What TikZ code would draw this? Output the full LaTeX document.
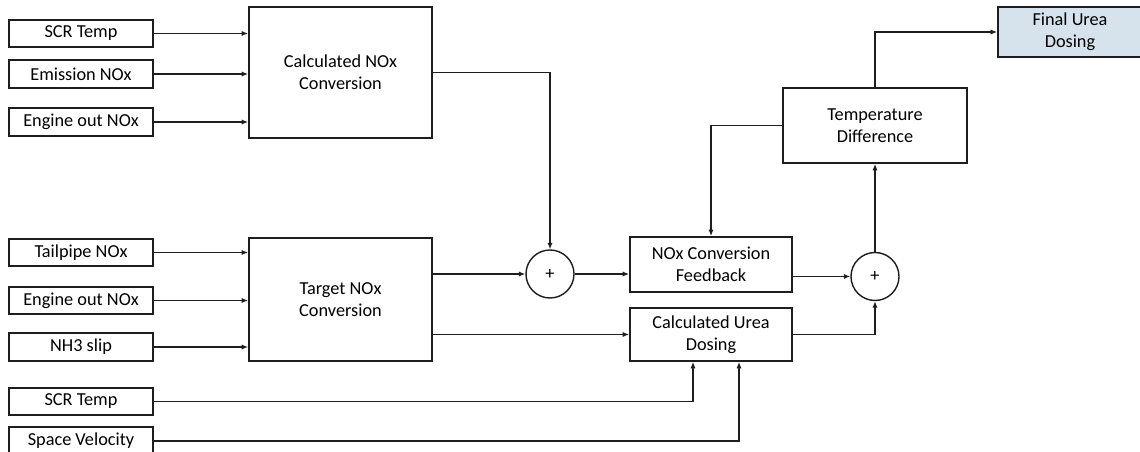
\documentclass[tikz,border=0pt]{standalone}
\usepackage{fontspec}
\setmainfont{Carlito}
\usetikzlibrary{arrows.meta,calc}
\definecolor{ink}{RGB}{30,30,30}
\definecolor{finalfill}{RGB}{214,227,237}

\begin{document}
\begin{tikzpicture}[x=0.025cm,y=-0.025cm,
        font=\fontsize{13}{15.6}\selectfont,
        >={Latex[length=1.6mm,width=1.3mm]},
        inbox/.style={draw=ink,line width=1.2pt,minimum width=3.6cm,minimum height=0.69cm,inner sep=0pt},
        block/.style={draw=ink,line width=1.2pt,align=center,inner sep=0pt},
        sumnode/.style={draw=ink,line width=1pt,circle,minimum size=1.2cm,inner sep=0pt},
        wire/.style={draw=ink,line width=1.1pt}]
        \useasboundingbox (0,0) rectangle (1140,452);
        % Input signals
        \foreach \y/\name/\txt in {33.5/scrA/SCR Temp, 74/emis/Emission NOx, 122/engA/Engine out NOx,
                252.5/tail/Tailpipe NOx, 300.5/engB/Engine out NOx, 347/nhslip/NH3 slip,
                401.5/scrB/SCR Temp, 441/spvel/Space Velocity} {
            \node[inbox] (\name) at (81,\y) {\txt};
        }
        % Blocks
        \node[block,minimum width=4.575cm,minimum height=3.275cm] (calcnox) at (340.5,72.5) {Calculated NOx\\Conversion};
        \node[block,minimum width=4.575cm,minimum height=3.075cm] (target) at (340.5,299.5) {Target NOx\\Conversion};
        \node[block,minimum width=4.05cm,minimum height=1.375cm] (feedback) at (711,264.5) {NOx Conversion\\Feedback};
        \node[block,minimum width=4.05cm,minimum height=1.325cm] (urea) at (711,334.5) {Calculated Urea\\Dosing};
        \node[block,minimum width=4.6cm,minimum height=1.875cm] (tempdiff) at (875,125.5) {Temperature\\Difference};
        \node[block,fill=finalfill,minimum width=3.6cm,minimum height=1.25cm] (final) at (1070,32) {Final Urea\\Dosing};
        % Summing points
        \node[sumnode] (sumA) at (550,274) {+};
        \node[sumnode] (sumB) at (875,276.5) {+};
        % Draw inputs
        \foreach \src in {scrA,emis,engA} {
            \draw[wire,->] (\src) -- (\src -| calcnox.west);
        }
        \foreach \src in {tail,engB,nhslip} {
            \draw[wire,->] (\src) -- (\src -| target.west);
        }
        % Draw signal paths
        \draw[wire,->] (calcnox.east) -| (sumA.north);
        \draw[wire,->] (sumA -| target.east) -- (sumA.west);
        \draw[wire,->] (sumA.east) -- (sumA.east -| feedback.west);
        \draw[wire,->] (urea.west -| target.east) -- (urea.west);
        \draw[wire,->] (sumB -| feedback.east) -- (sumB.west);
        \draw[wire,->] (urea.east) -| (sumB.south);
        \draw[wire,->] (sumB.north) -- (tempdiff.south);
        \draw[wire,->] (tempdiff.west) -| (feedback.north);
        \draw[wire,->] (tempdiff.north) |- (final.west);
        \draw[wire,->] (scrB.east) -| ($(urea.south)+(-18,0)$);
        \draw[wire,->] (spvel.east) -| ($(urea.south)+(28,0)$);
    \end{tikzpicture}
\end{document}
